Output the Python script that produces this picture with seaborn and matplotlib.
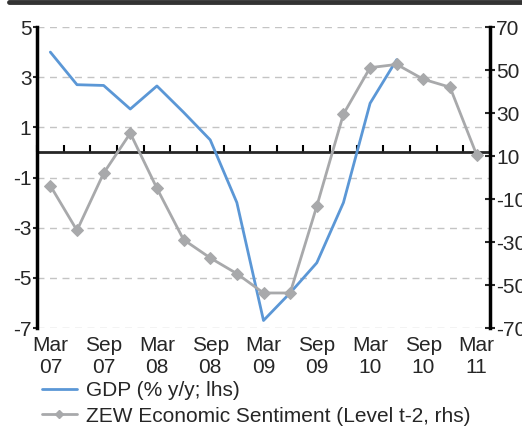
import numpy as np
import pandas as pd
import matplotlib.pyplot as plt
import seaborn as sns
from matplotlib.lines import Line2D

# Quarterly data, Q1 2007 - Q1 2011
quarters = ['Mar 07', 'Jun 07', 'Sep 07', 'Dec 07', 'Mar 08', 'Jun 08', 'Sep 08', 'Dec 08',
            'Mar 09', 'Jun 09', 'Sep 09', 'Dec 09', 'Mar 10', 'Jun 10', 'Sep 10', 'Dec 10', 'Mar 11']
gdp = [4.0, 2.7, 2.67, 1.73, 2.65, 1.6, 0.5, -2.0, -6.7, -5.6, -4.4, -2.0, 1.96, 3.7]
zew = [-3.8, -24.6, 2.0, 20.6, -5.0, -28.9, -37.4, -44.7, -53.7, -53.7, -13.3, 29.5,
       51.1, 52.6, 45.7, 42.0, 10.5]
tick_labels = ['Mar\n07', 'Sep\n07', 'Mar\n08', 'Sep\n08', 'Mar\n09', 'Sep\n09',
               'Mar\n10', 'Sep\n10', 'Mar\n11']

gdp_df = pd.DataFrame({'pos': np.arange(len(gdp)), 'value': gdp})
zew_df = pd.DataFrame({'pos': np.arange(len(zew)), 'value': zew})

sns.set_style('white')
plt.rcParams['font.family'] = ['Liberation Sans', 'DejaVu Sans']
plt.rcParams['axes.unicode_minus'] = False

blue = '#5b97d6'
grey = '#a8a9ab'
fs = 15

fig = plt.figure(figsize=(5.22, 4.26), dpi=100)
ax = fig.add_axes([0.0709, 0.23, 0.8678, 0.7066])
ax2 = ax.twinx()

sns.lineplot(data=gdp_df, x='pos', y='value', ax=ax, color=blue, lw=2, legend=False)
sns.lineplot(data=zew_df, x='pos', y='value', ax=ax2, color=grey, lw=2, marker='D',
             markersize=6, markeredgecolor=grey, legend=False)

# left axis
ax.set_ylim(-7, 5)
ax.set_yticks(range(-7, 6, 2))
ax.set_xlim(-0.5, len(quarters) - 0.5)
ax.set_xticks(range(0, len(quarters), 2))
ax.set_xticklabels(tick_labels, linespacing=1.15)
ax.set_xlabel('')
ax.set_ylabel('')
ax.grid(axis='y', ls=(0, (5, 4)), color='#c4c4c4', lw=1)
ax.grid(axis='x', visible=False)
ax.tick_params(axis='x', length=0, pad=6, labelsize=fs)
ax.tick_params(axis='y', direction='out', length=3, width=1.5, pad=1, labelsize=fs)
for s in ['top', 'bottom', 'right']:
    ax.spines[s].set_visible(False)
ax.spines['left'].set_linewidth(2.5)
ax.spines['left'].set_color('black')

# right axis
ax2.set_ylim(-70, 70)
ax2.set_yticks(range(-70, 71, 20))
ax2.set_ylabel('')
ax2.grid(False)
ax2.tick_params(axis='y', direction='inout', length=7, width=1.5, pad=1, labelsize=fs)
for s in ['top', 'bottom', 'left']:
    ax2.spines[s].set_visible(False)
ax2.spines['right'].set_linewidth(2.5)
ax2.spines['right'].set_color('black')

# zero line with quarterly tick marks
sec = ax.secondary_xaxis(7 / 12)
sec.set_xticks(np.arange(-0.5, len(quarters), 1))
sec.set_xticklabels([])
sec.tick_params(axis='x', direction='out', length=5, width=1.5, color='black')
sec.spines['top'].set_linewidth(2)
sec.spines['bottom'].set_linewidth(2)

# top rule
fig.add_artist(Line2D([0.017, 1], [0.995, 0.995], transform=fig.transFigure,
                      color='#333333', lw=3.5))

handles = [Line2D([], [], color=blue, lw=2),
           Line2D([], [], color=grey, lw=2, marker='D', markersize=4, markeredgecolor=grey)]
labels = ['GDP (% y/y; lhs)', 'ZEW Economic Sentiment (Level t-2, rhs)']
fig.legend(handles, labels, loc='center left', bbox_to_anchor=(0.08, 0.053),
           frameon=False, fontsize=fs, handlelength=1.7, handletextpad=0.4,
           labelspacing=0.3, borderpad=0, borderaxespad=0)

fig.savefig('out.png', dpi=100)
